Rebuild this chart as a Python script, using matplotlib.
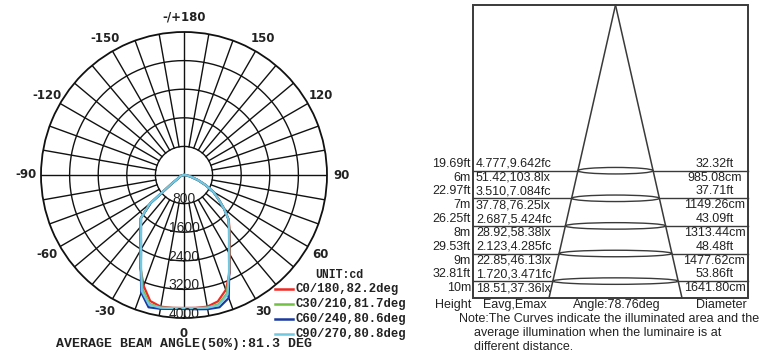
import numpy as np
import matplotlib
matplotlib.use('Agg')
import matplotlib.pyplot as plt
from matplotlib.patches import Rectangle, Ellipse

# polar light distribution (cd), angles in degrees, -90 .. 90
angles = [-90, -85, -80, -75, -70, -65, -60, -55, -50, -45, -40, -35, -30, -25, -20, -15, -10, -5,
          0, 5, 10, 15, 20, 25, 30, 35, 40, 45, 50, 55, 60, 65, 70, 75, 80, 85, 90]

c0_180 = [0, 25, 50, 80, 105, 140, 190, 400, 1200, 1720, 1900, 2140, 2440, 2880, 3300, 3650, 3740, 3730,
          3720, 3730, 3740, 3660, 3420, 3020, 2560, 2230, 1980, 1770, 1460, 1180, 950, 660, 410, 210, 100, 45, 0]
c30_210 = [0, 28, 52, 82, 108, 145, 195, 410, 1230, 1710, 1880, 2120, 2420, 2860, 3400, 3730, 3770, 3735,
           3725, 3740, 3770, 3740, 3520, 2990, 2530, 2205, 1965, 1765, 1458, 1178, 950, 665, 415, 215, 105, 48, 0]
c60_240 = [0, 28, 52, 82, 108, 145, 195, 410, 1230, 1700, 1870, 2100, 2400, 2860, 3500, 3830, 3800, 3760,
           3745, 3770, 3810, 3830, 3660, 2990, 2520, 2200, 1960, 1762, 1455, 1175, 950, 668, 418, 218, 108, 50, 0]
c90_270 = [0, 30, 55, 85, 110, 150, 200, 420, 1250, 1700, 1870, 2100, 2400, 2840, 3450, 3760, 3770, 3735,
           3720, 3735, 3770, 3770, 3560, 2980, 2517, 2195, 1958, 1762, 1455, 1175, 950, 670, 420, 220, 110, 50, 0]

series = [c0_180, c30_210, c60_240, c90_270]
c_planes = ['C0/180', 'C30/210', 'C60/240', 'C90/270']
beam_angles = [82.2, 81.7, 80.6, 80.8]
colors = ['#ee2a24', '#72c044', '#1a3aa0', '#72c8de']
avg_beam = 81.3

rings = [800, 1600, 2400, 3200, 4000]
angle_ticks = [-150, -120, -90, -60, -30, 0, 30, 60, 90, 120, 150, 180]

# illuminance table
height_ft = [19.69, 22.97, 26.25, 29.53, 32.81]
height_m = [6, 7, 8, 9, 10]
eavg_fc = [4.777, 3.510, 2.687, 2.123, 1.720]
emax_fc = [9.642, 7.084, 5.424, 4.285, 3.471]
eavg_lx = [51.42, 37.78, 28.92, 22.85, 18.51]
emax_lx = [103.8, 76.25, 58.38, 46.13, 37.36]
diam_ft = [32.32, 37.71, 43.09, 48.48, 53.86]
diam_cm = [985.08, 1149.26, 1313.44, 1477.62, 1641.80]
cone_angle = 78.76

W, H = 760, 358
fig = plt.figure(figsize=(W / 100, H / 100), dpi=100)
fig.patch.set_facecolor('white')

# ---- polar chart ----
cx, cy, R = 184, 175, 143
ax = fig.add_axes([(cx - R) / W, 1 - (cy + R) / H, 2 * R / W, 2 * R / H], projection='polar')
ax.set_theta_zero_location('S')
ax.set_theta_direction(1)
ax.set_ylim(0, 4000)
ax.set_xticks([])
ax.set_yticks([])
ax.grid(False)
ax.spines['polar'].set_color('#111111')
ax.spines['polar'].set_linewidth(1.3)

full = np.linspace(0, 2 * np.pi, 361)
for r in rings[:-1]:
    ax.plot(full, np.full_like(full, r), color='#111111', lw=1.0, zorder=1)
for deg in range(0, 360, 10):
    t = np.deg2rad(deg)
    r0 = 0 if deg % 90 == 0 else rings[0]
    ax.plot([t, t], [r0, rings[-1]], color='#111111', lw=1.0, zorder=1)

th = np.deg2rad(angles)
for vals, col in zip(series, colors):
    ax.plot(th, vals, color=col, lw=1.6, zorder=3)

for r in rings:
    ax.text(0, r - 115, str(r), ha='center', va='center', fontsize=10,
            family='Liberation Sans', color='#222222', zorder=5)

for a in angle_ticks:
    lab = '-/+180' if a == 180 else str(a)
    ax.text(np.deg2rad(a), 4420, lab, ha='center', va='center', fontsize=8.5,
            fontweight='bold', family='DejaVu Sans', color='#222222', clip_on=False)

# ---- overlay in pixel coordinates ----
ov = fig.add_axes([0, 0, 1, 1])
ov.set_xlim(0, W)
ov.set_ylim(H, 0)
ov.axis('off')
ov.patch.set_visible(False)

mono = dict(family='Liberation Mono', fontweight='bold', color='#222222')
ov.text(315, 275, 'UNIT:cd', fontsize=8.3, va='center', ha='left', **mono)
for i, (name, ba, col) in enumerate(zip(c_planes, beam_angles, colors)):
    y = 289 + 15 * i
    ov.plot([275, 293], [y, y], color=col, lw=1.8)
    ov.text(296, y, f'{name},{ba}deg', fontsize=8.8, va='center', ha='left', **mono)
ov.text(184, 344, f'AVERAGE BEAM ANGLE(50%):{avg_beam} DEG', fontsize=9.5,
        ha='center', va='center', **mono)

# ---- right panel ----
sans = dict(family='Liberation Sans', color='#222222')
left, right, top, bottom = 473, 748, 5, 298
apex_x = 615.5
half_bottom = 66.5
edge = '#3a3a3a'
ov.add_patch(Rectangle((left, top), right - left, bottom - top, fill=False, ec=edge, lw=1.4))
ov.plot([apex_x, apex_x - half_bottom], [top, bottom], color=edge, lw=1.1)
ov.plot([apex_x, apex_x + half_bottom], [top, bottom], color=edge, lw=1.1)

for k in range(len(height_m)):
    yl = 170.7 + 27.6 * k
    hw = half_bottom * (yl - top) / (bottom - top)
    ov.plot([left, apex_x - hw], [yl, yl], color=edge, lw=1.0)
    ov.plot([apex_x + hw, right], [yl, yl], color=edge, lw=1.0)
    ov.add_patch(Ellipse((apex_x, yl), 2 * hw, 6.5, fill=False, ec=edge, lw=1.0))
    y1, y2 = yl - 6.8, yl + 7.0
    ov.text(471, y1, f'{height_ft[k]:.2f}ft', ha='right', va='center', fontsize=9, **sans)
    ov.text(471, y2, f'{height_m[k]}m', ha='right', va='center', fontsize=9, **sans)
    ov.text(476, y1, f'{eavg_fc[k]:.3f},{emax_fc[k]:.3f}fc', ha='left', va='center', fontsize=9, **sans)
    ov.text(476, y2, f'{eavg_lx[k]:.4g},{emax_lx[k]:.4g}lx', ha='left', va='center', fontsize=9, **sans)
    ov.text(714.5, y1, f'{diam_ft[k]:.2f}ft', ha='center', va='center', fontsize=9, **sans)
    ov.text(714.5, y2, f'{diam_cm[k]:.2f}cm', ha='center', va='center', fontsize=9, **sans)

ov.text(471, 305, 'Height', ha='right', va='center', fontsize=9, **sans)
ov.text(483, 305, 'Eavg,Emax', ha='left', va='center', fontsize=9, **sans)
ov.text(apex_x + 1, 305, f'Angle:{cone_angle}deg', ha='center', va='center', fontsize=9, **sans)
ov.text(721, 305, 'Diameter', ha='center', va='center', fontsize=9, **sans)
ov.text(459, 318.5, 'Note:The Curves indicate the illuminated area and the',
        ha='left', va='center', fontsize=9, **sans)
ov.text(474, 333, 'average illumination when the luminaire is at',
        ha='left', va='center', fontsize=9, **sans)
ov.text(474, 347, 'different distance.', ha='left', va='center', fontsize=9, **sans)

fig.savefig('out.png', dpi=100)
